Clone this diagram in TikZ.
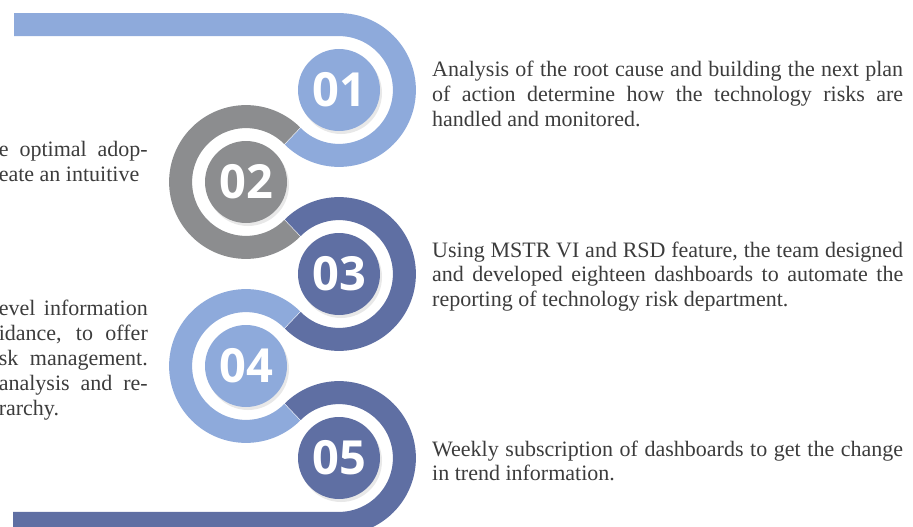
\documentclass[tikz,border=0pt]{standalone}
\usepackage{fontspec}
\setmainfont{Liberation Serif}
\newfontfamily\numfont{Open Sans}
\usetikzlibrary{shadows}
\definecolor{lightblue}{HTML}{8EAADB}
\definecolor{midgray}{HTML}{8C8D8F}
\definecolor{darkblue}{HTML}{5F6FA3}
\definecolor{textgray}{HTML}{3C3C3C}

\begin{document}
\begin{tikzpicture}[x=1pt, y=1pt,
    band/.style={draw=#1, line width=23pt, line cap=butt},
    numdisc/.style={circle, fill=#1, minimum size=82pt, inner sep=0pt, text=white,
        font=\numfont\bfseries\fontsize{47}{47}\selectfont,
        drop shadow={shadow xshift=2pt, shadow yshift=-3pt, opacity=0.18}},
    desc/.style={anchor=base west, text width=471pt, align=justify, inner sep=0pt,
        text=textgray, font=\fontsize{22}{24.6}\selectfont},
    sidetext/.style={anchor=base east, text width=149pt, align=justify, inner sep=0pt,
        text=textgray, font=\fontsize{22}{25}\selectfont}]
    \useasboundingbox (0,0) rectangle (913,-527);
    \clip (0,0) rectangle (913,-527);
    \def\R{65.4}
    \coordinate (c1) at (339,-90);
    \coordinate (c2) at (246,-182);
    \coordinate (c3) at (339,-274);
    \coordinate (c4) at (246,-366);
    \coordinate (c5) at (339,-458);
    \coordinate (topend) at (14,-24.6);
    \coordinate (botend) at (13,-523.4);

    \draw[band=lightblue] (topend) -- ([yshift=\R pt]c1) arc[start angle=90, end angle=-135, radius=\R];
    \draw[band=midgray] ([shift={(45:\R)}]c2) arc[start angle=45, end angle=315, radius=\R];
    \draw[band=darkblue] ([shift={(135:\R)}]c3) arc[start angle=135, end angle=-135, radius=\R];
    \draw[band=lightblue] ([shift={(45:\R)}]c4) arc[start angle=45, end angle=315, radius=\R];
    \draw[band=darkblue] ([shift={(135:\R)}]c5) arc[start angle=135, end angle=-90, radius=\R] -- (botend);

    \node[numdisc=lightblue] (n1) at (c1) {01};
    \node[numdisc=midgray] (n2) at (c2) {02};
    \node[numdisc=darkblue] (n3) at (c3) {03};
    \node[numdisc=lightblue] (n4) at (c4) {04};
    \node[numdisc=darkblue] (n5) at (c5) {05};

    \node[desc] (t1) at (432,-77) {Analysis of the root cause and building the next plan\linebreak
        of action determine how the technology risks are\linebreak handled and monitored.};
    \node[desc] (t3) at (432,-257) {Using MSTR VI and RSD feature, the team designed\linebreak
        and developed eighteen dashboards to automate the\linebreak reporting of technology risk department.};
    \node[desc] (t5) at (432,-456) {Weekly subscription of dashboards to get the change\linebreak
        in trend information.};
    \node[sidetext] (t2) at (148,-156) {\parfillskip=0pt e optimal adop-\linebreak eate an intuitive};
    \node[sidetext] (t4) at (148,-315) {evel information\linebreak idance, to offer\linebreak
        sk management.\linebreak analysis and re-\linebreak rarchy.};
\end{tikzpicture}
\end{document}
